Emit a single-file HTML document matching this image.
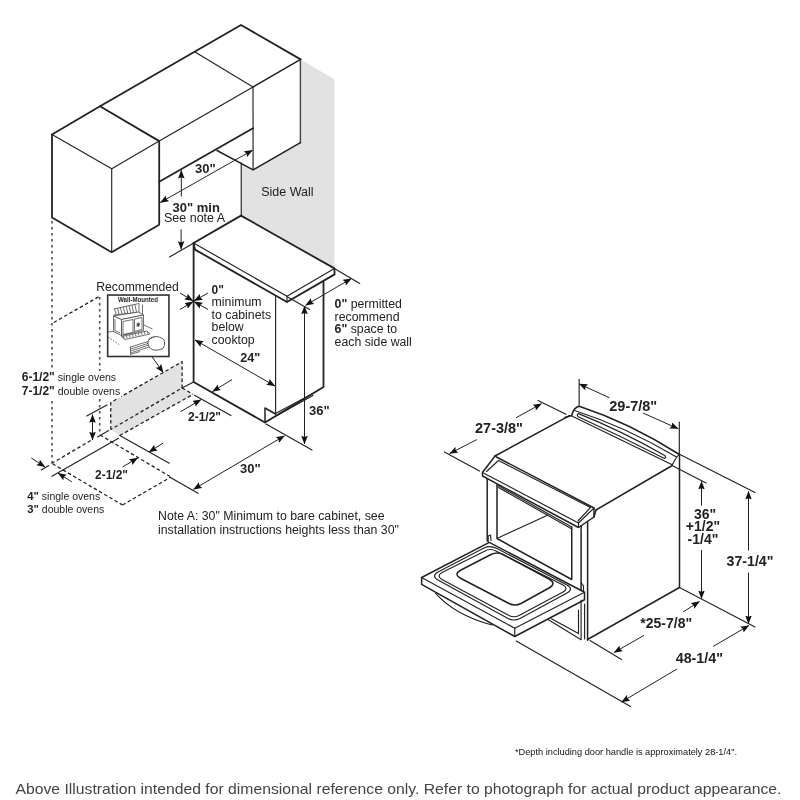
<!DOCTYPE html>
<html><head><meta charset="utf-8">
<style>
html,body{margin:0;padding:0;background:#fff;width:800px;height:800px;overflow:hidden}
svg{display:block;will-change:transform}
text{font-family:"Liberation Sans",sans-serif;fill:#222}
.b{font-weight:bold}
.k{stroke:#222;stroke-width:1.8;fill:none;stroke-linecap:round;stroke-linejoin:round}
.m{stroke:#222;stroke-width:1.5;fill:none;stroke-linecap:round;stroke-linejoin:round}
.t{stroke:#222;stroke-width:1.15;fill:none;stroke-linecap:round;stroke-linejoin:round}
.d{stroke:#222;stroke-width:1.3;fill:none;stroke-dasharray:3.5 2.5}
.dv{stroke:#555;stroke-width:1.7;fill:none;stroke-dasharray:2.6 3.4}
.ar{stroke:#222;stroke-width:1;fill:none}
</style></head>
<body>
<svg width="800" height="800" viewBox="0 0 800 800">
<defs>
<marker id="a" markerUnits="userSpaceOnUse" markerWidth="8.5" markerHeight="7" refX="8.2" refY="3.5" orient="auto-start-reverse" viewBox="0 0 8.5 7"><path d="M0,0.2 L8.5,3.5 L0,6.8 L1.3,3.5z" fill="#111"/></marker>
</defs>

<!-- ===== Side wall gray ===== -->
<polygon points="300.6,59.4 334.5,79.3 334.5,272 241.25,216 241.25,163 253.1,169.8 300.4,142.7" fill="#e2e2e2"/>

<!-- ===== Upper cabinets ===== -->
<!-- left cabinet -->
<path class="k" d="M52,134.5 L100,106.25 L241,25 L300.6,59.4"/>
<path class="m" d="M300.4,60 L300.4,142.7" style="stroke:#444;stroke-width:1.4"/>
<path class="m" d="M300.4,142.7 L253.1,169.8 L217,150.5"/>
<path class="k" d="M52,134.5 L52,217.5 L111.6,252.2 L159.2,224.8 L159.2,141.1 L100,106.25"/>
<path class="t" d="M52,134.5 L111.75,168.75 L159.2,141.1 L253,87"/>
<path class="m" d="M253,87 L300.6,59.4"/>
<path class="t" d="M111.7,168.75 L111.7,252"/>
<path class="t" d="M195,52 L253,87 L253.1,169.8"/>
<path class="k" d="M159.2,181.7 L253,128.2"/>
<line class="t" x1="241.25" y1="163" x2="241.25" y2="215.75"/>

<!-- 30" under-cabinet -->
<line class="ar" x1="160.3" y1="202.5" x2="252.6" y2="150.2" marker-start="url(#a)" marker-end="url(#a)"/>
<text class="b" x="195" y="173" font-size="13">30"</text>
<line class="ar" x1="181.3" y1="196.6" x2="181.3" y2="170.4" marker-end="url(#a)"/>
<text class="b" x="172.5" y="211.5" font-size="13">30" min</text>
<text x="164" y="221.8" font-size="12.5">See note A</text>
<line class="ar" x1="181.1" y1="229.3" x2="181.1" y2="249.3" marker-end="url(#a)"/>
<line class="t" x1="169.5" y1="257" x2="241.25" y2="215.75"/>

<!-- ===== Range (left drawing) ===== -->
<polygon points="241,215.6 334.4,268.4 334.6,274.4 287,302 195,249.6 193.6,243" fill="#fff"/>
<polygon points="193.6,248 287.5,302.5 323,282 323,388 265,423 193.6,382" fill="#fff"/>
<path class="k" d="M193.6,243 L241,215.6 L334.4,268.4 L334.6,274.4 L287,302 L195,249.6 L193.6,243"/>
<path class="t" d="M193.6,243 L287,296.3 L334.4,268.4"/>
<line class="t" x1="287" y1="296.3" x2="287" y2="302" stroke="#777"/>
<path class="k" d="M193.6,243 L193.6,382 L265,422.5 L323.5,387 L323.5,282"/>
<line class="t" x1="275.6" y1="296.6" x2="275.6" y2="414" stroke="#555"/>
<path class="m" d="M265,422.5 L265,408 L275.5,414"/>
<path class="t" d="M275.5,413.6 L313,393.5"/>
<path class="t" d="M276,416 L313,395.5"/>

<!-- 0" cross arrows -->
<line class="ar" x1="180" y1="293" x2="193" y2="300.8" marker-end="url(#a)"/>
<line class="ar" x1="180" y1="309.5" x2="193" y2="301.7" marker-end="url(#a)"/>
<line class="ar" x1="208" y1="293" x2="194.2" y2="300.8" marker-end="url(#a)"/>
<line class="ar" x1="208" y1="309.5" x2="194.2" y2="301.7" marker-end="url(#a)"/>
<text class="b" x="211.6" y="293.5" font-size="12">0"</text>
<text x="211.6" y="306" font-size="12.3">minimum</text>
<text x="211.6" y="318.5" font-size="12.3">to cabinets</text>
<text x="211.6" y="331" font-size="12.3">below</text>
<text x="211.6" y="343.5" font-size="12.3">cooktop</text>

<!-- 24" -->
<line class="ar" x1="195" y1="340" x2="275" y2="386" marker-start="url(#a)" marker-end="url(#a)"/>
<text class="b" x="240.3" y="361.5" font-size="12.6">24"</text>

<!-- 0" permitted -->
<line class="t" x1="334.4" y1="268.4" x2="359.75" y2="283.5"/>
<line class="t" x1="288" y1="297.2" x2="309.7" y2="309.4"/>
<line class="ar" x1="305.5" y1="305.3" x2="351.3" y2="278.6" marker-start="url(#a)" marker-end="url(#a)"/>
<text x="334.6" y="308.2" font-size="12.3"><tspan class="b">0"</tspan> permitted</text>
<text x="334.6" y="320.6" font-size="12.3">recommend</text>
<text x="334.6" y="333.2" font-size="12.3"><tspan class="b">6"</tspan> space to</text>
<text x="334.6" y="345.7" font-size="12.3">each side wall</text>

<!-- 36" -->
<line class="ar" x1="304.5" y1="306" x2="304.5" y2="444" marker-start="url(#a)" marker-end="url(#a)"/>
<text class="b" x="309" y="415" font-size="13">36"</text>
<line class="t" x1="266" y1="424" x2="312" y2="450"/>

<!-- 30" bottom -->
<line class="ar" x1="193.5" y1="489.3" x2="284.5" y2="435.8" marker-start="url(#a)" marker-end="url(#a)"/>
<text class="b" x="240" y="473" font-size="13">30"</text>
<line class="t" x1="170" y1="477.3" x2="198" y2="493.3"/>

<!-- 2-1/2" right -->
<line class="t" x1="194.5" y1="395.2" x2="231" y2="415.6"/>
<line class="ar" x1="232" y1="379.6" x2="212.5" y2="391.5" marker-end="url(#a)"/>
<line class="ar" x1="180.3" y1="411.8" x2="201" y2="399.7" marker-end="url(#a)"/>
<text class="b" x="188" y="421" font-size="12">2-1/2"</text>

<!-- ===== floor / oven cabinet dashed ===== -->
<polygon points="110.75,402.5 182.1,361.75 182.1,388 193,394.4 119.75,435.5 110.75,429.5" fill="#e2e2e2"/>
<path class="d" d="M110.75,429.5 L110.75,402.5 L182.1,361.75 L182.1,388 L110.75,429.5"/>
<path class="d" d="M119.75,435.5 L193,394.4"/>
<path class="d" d="M182.1,388 L193,394.4"/>
<line class="t" x1="182.1" y1="388" x2="193.6" y2="382"/>
<line class="dv" x1="52" y1="221" x2="52" y2="462.5"/>
<line class="dv" x1="99.7" y1="297" x2="99.7" y2="435"/>
<line class="d" x1="53.75" y1="322.5" x2="100" y2="296"/>
<line class="d" x1="51.5" y1="463.5" x2="92.5" y2="439.5"/>
<line class="t" x1="97.5" y1="437" x2="108.75" y2="430.6"/>
<line class="d" x1="100" y1="435" x2="170" y2="476.5"/>
<line class="d" x1="52.5" y1="463.75" x2="122.5" y2="505"/>
<line class="d" x1="122.5" y1="505" x2="170" y2="477.5"/>
<line class="t" x1="119.75" y1="435.5" x2="169.25" y2="463.25"/>
<line class="t" x1="51.9" y1="476.25" x2="118.5" y2="438.3"/>
<line class="t" x1="41.25" y1="470" x2="48.75" y2="465.6"/>
<line class="t" x1="86.75" y1="416" x2="107" y2="405"/>
<line class="ar" x1="92.5" y1="427" x2="92.5" y2="414.5" marker-end="url(#a)"/>
<line class="ar" x1="92.5" y1="427" x2="92.5" y2="440" marker-end="url(#a)"/>
<line class="ar" x1="31.25" y1="458" x2="45" y2="466.9" marker-end="url(#a)"/>
<line class="ar" x1="71.9" y1="481.9" x2="58.1" y2="473.1" marker-end="url(#a)"/>
<line class="ar" x1="122.5" y1="467" x2="137.75" y2="458" marker-end="url(#a)"/>
<line class="ar" x1="163.25" y1="443" x2="149" y2="452" marker-end="url(#a)"/>
<text class="b" x="95" y="478.75" font-size="12">2-1/2"</text>

<rect x="20" y="371" width="101" height="27" fill="#fff"/>
<text x="21.75" y="381" font-size="10.5"><tspan class="b" font-size="12">6-1/2"</tspan> single ovens</text>
<text x="21.75" y="395.3" font-size="10.5"><tspan class="b" font-size="12">7-1/2"</tspan> double ovens</text>
<text x="27.25" y="499.7" font-size="10.5"><tspan class="b" font-size="11.3">4"</tspan> single ovens</text>
<text x="27.25" y="512.8" font-size="10.5"><tspan class="b" font-size="11.3">3"</tspan> double ovens</text>

<!-- recommended box -->
<text x="96.25" y="291" font-size="12.2">Recommended</text>
<rect x="107.65" y="295.05" width="61.3" height="61.45" fill="#fff" stroke="#333" stroke-width="1.6"/>
<text x="118" y="302" font-size="7" class="b" textLength="40" lengthAdjust="spacingAndGlyphs">Wall-Mounted</text>
<line class="ar" x1="152" y1="356.75" x2="163.25" y2="372.5" marker-end="url(#a)"/>
<g stroke="#333" stroke-width="0.7" fill="none" stroke-linejoin="round">
<path d="M113.5,309 L139,303.5 L139,312.5 L113.5,315"/>
<path d="M114.5,308.8 L116.3,314.7 M117.4,308.2 L119.2,314.4 M120.3,307.5 L122.1,314.2 M123.2,306.9 L125.0,313.9 M126.1,306.3 L127.9,313.6 M129.0,305.7 L130.8,313.3 M131.9,305.0 L133.7,313.0 M134.8,304.4 L136.6,312.7"/>
<path d="M142.5,304.5 L142.5,315.5"/>
<path d="M113.5,316 L138.5,312 L143.5,315 L121.5,319.5 Z" fill="#fff"/>
<path d="M113.5,316 L113.5,331.5 L121.5,335.5 L121.5,319.5 Z" fill="#fff"/>
<path d="M121.5,319.5 L143.5,315 L143.5,330.5 L121.5,335.5 Z" fill="#fff"/>
<path d="M115,319 L115,330.5 L120,333"/>
<path d="M123,321.5 L133,319.5 L133,332.5 L123,334.5 Z"/>
<path d="M134.5,319 L142,317.5 L142,329.5 L134.5,331.5 Z"/>
<path d="M136.5,325 L140,324.2 M138.2,322.5 L138.2,327 M136.8,323.2 L139.6,326.2 M139.6,323 L136.8,326.4" stroke-width="0.9"/>
<path d="M108,332 L113.5,331.5"/>
<path d="M108,337 L119,344.5" stroke-dasharray="1.6 1.4"/>
<path d="M121.5,336.5 L147,331 L150,334 L125,339.5 Z" fill="#fff"/>
<path d="M124,338.8 L123.5,336.2 M127,338.2 L126.5,335.6 M130,337.5 L129.5,335 M133,336.9 L132.5,334.3 M136,336.2 L135.5,333.7 M139,335.6 L138.5,333 M142,334.9 L141.5,332.4 M145,334.3 L144.5,331.7 M148,333.7 L147.5,331.6"/>
<path d="M144,325 L152.5,329"/>
<path d="M130.5,347 Q140,344 148,341.5 M130.5,349 Q140,346 148.5,343.3 M130.5,351 Q140,348 149,345 M130.5,353 Q140,350 149.5,346.8 M130.5,354.5 Q135,353 140,351.5" />
<path d="M130.5,346.5 L130.5,355"/>
<path d="M148,341 Q151,336 156,336.5 Q164,337.5 164.6,341.5 Q165,346 163,348.5 Q158,351 153,350 Q148.5,348.5 148,344 Z" fill="#fff" stroke-width="0.8"/>
<path d="M148.5,339.5 L150,337.5 M151,339 L152,336.8 M153.5,338 L154.2,336.5"/>
</g>

<text x="261.25" y="196.3" font-size="12.5" fill="#222">Side Wall</text>

<!-- ===== Right range drawing ===== -->
<!-- top surface -->
<path class="m" d="M495,456 L569.5,415.6"/>
<path class="m" d="M672.25,465.5 L596,510"/>
<!-- backsplash -->
<path class="m" d="M565,417.5 L571.75,415.5 Q573.5,407.5 579.25,406.25 Q630,423 679,454.25"/>
<path class="t" d="M679,454.25 Q675,459 672.25,464.75 L571.75,416"/>
<path class="t" d="M574.5,410.5 Q626,427 676.5,457"/>
<path class="t" d="M578.5,413.6 Q622,431 664.75,455.5 Q666.5,457.5 664.5,458.5 Q621,436 577.75,416.4 Q576.5,414.5 578.5,413.6"/>
<!-- control panel -->
<path class="m" d="M495,456 L496.5,457 L594,508 L594,517 L578.5,527.5 L482.5,476 L482.5,472.5 L495,456"/>
<path class="t" d="M482.5,472.5 L578.5,523 L594,508"/>
<path class="t" d="M578.5,523 L578.5,527.5"/>
<path class="t" d="M486.5,471.5 L498.5,460.5 L590.5,507.5 L578,521"/>
<!-- oven frame -->
<path class="m" d="M487.2,479 L487.2,541"/>
<path class="m" d="M497,485 L497,538.5 L571.75,579.5 L571.75,527"/>
<path class="t" d="M497,485 L571.75,527"/>
<path class="t" d="M498.5,487.5 L571,528.5"/>
<path class="t" d="M498,538 L548,515"/>
<path class="m" d="M581.1,525.9 L581.1,592"/>
<path class="m" d="M587.6,521.5 L587.6,640.2"/>
<!-- right side -->
<path class="m" d="M596,510 L594,517"/>
<path class="m" d="M679.5,454.25 L679.5,587.5 L587.5,639.5"/>
<!-- door -->
<path d="M421.6,577.5 L489.3,542.4 L584.5,592.25 L584.5,599.75 L514.75,636.5 L421.6,584.3 Z" fill="#fff"/>
<path class="m" d="M421.6,577.5 L489.3,542.4 L584.5,592.25 L584.5,599.75 L514.75,636.5 L421.6,584.3 Z"/>
<path class="t" d="M421.6,577.5 L514.75,628.2 L584.5,592.25"/>
<path class="t" d="M514.75,628.2 L514.75,636.5"/>
<path class="t" d="M435.6,593.3 Q455,615 492,625"/>
<path class="t" d="M438,572 Q431,576 438,580 L508,618.5 Q514,621.5 520,618.5 L567,593 Q574,589 567,585 L497,548.5 Q490,545 484,548 Z"/>
<path class="t" d="M442,572.5 Q436,576 442,579.5 L509,615.5 Q514,618 519,615.5 L563,592 Q569,588.5 563,585 L496,551 Q490,548 485,551 Z"/>
<path class="m" d="M461,570 Q453,574 461,578.5 L509,603.5 Q515,606.5 521,603.5 L549,588 Q557,583.5 549,579 L503,554.5 Q497,551.5 491,554.5 Z"/>
<path class="t" d="M488.2,542 L488.2,536 L490.5,535 L491,540.5" stroke="#555"/>
<!-- drawer -->
<path class="t" d="M548,619.6 L581.1,639.75 L581.1,600"/>
<path class="t" d="M551.4,618.75 L578.5,633.6 L578.5,610" stroke="#666"/>
<path class="t" d="M584.6,604 L584.6,639" stroke="#555"/>
<path class="t" d="M581.5,583 L583.5,586 L583.5,591" stroke="#555"/>
<!-- extension / dimension lines -->
<line class="t" x1="444.4" y1="451.9" x2="479.4" y2="471.1"/>
<line class="t" x1="538" y1="400.6" x2="566" y2="414.25"/>
<line class="ar" x1="476.75" y1="439.6" x2="449.6" y2="453.6" marker-end="url(#a)"/>
<line class="ar" x1="516" y1="417.75" x2="541.5" y2="403.75" marker-end="url(#a)"/>
<text class="b" x="475" y="432.6" font-size="14.5">27-3/8"</text>
<line class="t" x1="579.15" y1="379.4" x2="579.15" y2="406"/>
<line class="t" x1="679.3" y1="422" x2="679.3" y2="454"/>
<line class="ar" x1="609.4" y1="397.75" x2="579.15" y2="383.9" marker-end="url(#a)"/>
<line class="ar" x1="643" y1="413" x2="678.25" y2="428.75" marker-end="url(#a)"/>
<text class="b" x="609.25" y="410.75" font-size="14.5">29-7/8"</text>
<line class="t" x1="679.5" y1="454.25" x2="755" y2="492.5"/>
<line class="t" x1="673" y1="466" x2="706" y2="483"/>
<line class="t" x1="679.5" y1="587.5" x2="755" y2="627"/>
<line class="ar" x1="701.5" y1="505.6" x2="701.5" y2="481.25" marker-end="url(#a)"/>
<line class="ar" x1="701.5" y1="550" x2="701.5" y2="598.75" marker-end="url(#a)"/>
<text class="b" x="705" y="518.75" font-size="14" text-anchor="middle">36"</text>
<text class="b" x="703" y="531.3" font-size="14" text-anchor="middle">+1/2"</text>
<text class="b" x="703" y="544.4" font-size="14" text-anchor="middle">-1/4"</text>
<line class="ar" x1="748.5" y1="550.6" x2="748.5" y2="491.25" marker-end="url(#a)"/>
<line class="ar" x1="748.5" y1="572.5" x2="748.5" y2="623.75" marker-end="url(#a)"/>
<text class="b" x="726.5" y="565.6" font-size="14.2">37-1/4"</text>
<line class="t" x1="590" y1="640.5" x2="621.5" y2="659.4"/>
<line class="ar" x1="644" y1="635.4" x2="614" y2="652.5" marker-end="url(#a)"/>
<line class="ar" x1="683" y1="612" x2="699.5" y2="601.5" marker-end="url(#a)"/>
<text class="b" x="640.3" y="628.4" font-size="14">*25-7/8"</text>
<line class="t" x1="516.25" y1="641" x2="630.5" y2="706.5"/>
<line class="ar" x1="677" y1="669" x2="621.5" y2="702" marker-end="url(#a)"/>
<line class="ar" x1="713" y1="646.5" x2="749" y2="625.5" marker-end="url(#a)"/>
<text class="b" x="675.7" y="663" font-size="14.3">48-1/4"</text>

<!-- ===== Notes ===== -->
<text x="158" y="520" font-size="12.3">Note A: 30" Minimum to bare cabinet, see</text>
<text x="158" y="534" font-size="12.3">installation instructions heights less than 30"</text>

<text x="515" y="754.8" font-size="9.8" textLength="222" lengthAdjust="spacingAndGlyphs" style="fill:#111">*Depth including door handle is approximately 28-1/4".</text>
<text x="15.5" y="793.75" font-size="15" fill="#333" textLength="766" lengthAdjust="spacingAndGlyphs" style="fill:#444">Above Illustration intended for dimensional reference only. Refer to photograph for actual product appearance.</text>

</svg>
</body></html>
